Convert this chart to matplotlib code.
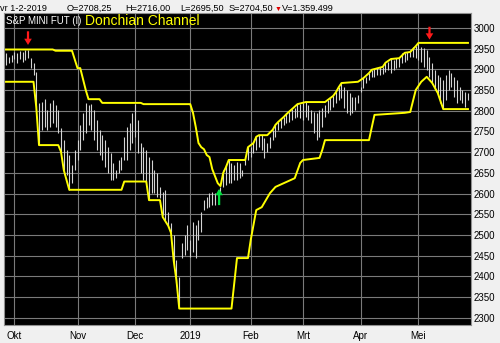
import numpy as np
import matplotlib
matplotlib.use('Agg')
import matplotlib.pyplot as plt

plt.rcParams['font.family'] = ['Liberation Sans', 'DejaVu Sans']

# daily bars (high / low), one per trading day from late Sep 2018
highs = [2940, 2930, 2935, 2942, 2940, 2944, 2942, 2947, 2947, 2928,
         2915, 2894, 2819, 2821, 2828, 2802, 2819, 2826, 2814, 2802,
         2758, 2729, 2705, 2693, 2669, 2705, 2729, 2766, 2795, 2819,
         2814, 2816, 2802, 2778, 2754, 2741, 2729, 2712, 2698, 2674,
         2657, 2681, 2688, 2737, 2761, 2770, 2795, 2816, 2778, 2722,
         2712, 2705, 2688, 2681, 2657, 2650, 2616, 2604, 2609, 2555,
         2529, 2500, 2439, 2398, 2480, 2500, 2524, 2488, 2531, 2524,
         2536, 2555, 2584, 2592, 2601, 2604, 2601, 2609, 2616, 2657,
         2669, 2681, 2674, 2669, 2676, 2674, 2657, 2686, 2712, 2712,
         2722, 2737, 2741, 2741, 2734, 2722, 2737, 2754, 2766, 2773,
         2783, 2785, 2792, 2797, 2804, 2807, 2816, 2816, 2819, 2821,
         2814, 2802, 2797, 2795, 2802, 2807, 2814, 2826, 2831, 2836,
         2845, 2857, 2867, 2857, 2850, 2843, 2833, 2833, 2838, 2857,
         2879, 2882, 2891, 2899, 2901, 2903, 2906, 2906, 2915, 2918,
         2925, 2923, 2928, 2928, 2940, 2940, 2942, 2947, 2954, 2956,
         2964, 2954, 2952, 2947, 2930, 2915, 2899, 2886, 2882, 2874,
         2886, 2899, 2891, 2882, 2874, 2857, 2850, 2845, 2843]
lows = [2911, 2915, 2918, 2925, 2915, 2925, 2918, 2923, 2928, 2903,
        2886, 2809, 2717, 2754, 2761, 2754, 2761, 2770, 2761, 2746,
        2700, 2657, 2645, 2609, 2625, 2657, 2681, 2705, 2729, 2746,
        2766, 2754, 2729, 2705, 2693, 2681, 2664, 2650, 2633, 2633,
        2637, 2650, 2657, 2681, 2681, 2705, 2722, 2737, 2698, 2650,
        2633, 2625, 2584, 2601, 2601, 2592, 2589, 2548, 2536, 2519,
        2507, 2427, 2384, 2323, 2444, 2451, 2464, 2447, 2459, 2444,
        2488, 2507, 2560, 2565, 2567, 2572, 2572, 2594, 2601, 2616,
        2621, 2625, 2625, 2633, 2633, 2637, 2643, 2669, 2681, 2688,
        2698, 2705, 2712, 2705, 2686, 2700, 2710, 2729, 2737, 2754,
        2758, 2766, 2770, 2773, 2778, 2783, 2785, 2783, 2778, 2785,
        2778, 2770, 2746, 2729, 2737, 2761, 2785, 2795, 2802, 2809,
        2819, 2826, 2831, 2807, 2795, 2790, 2795, 2802, 2819, 2845,
        2855, 2867, 2874, 2882, 2882, 2886, 2886, 2889, 2894, 2899,
        2891, 2899, 2903, 2906, 2915, 2918, 2923, 2930, 2930, 2928,
        2923, 2918, 2906, 2899, 2882, 2867, 2850, 2843, 2819, 2804,
        2826, 2850, 2857, 2833, 2819, 2826, 2819, 2809, 2826]

# donchian channel, (bar, value) turning points
upper_idx = [0, 17, 18, 24, 26, 27, 29, 30, 34, 35, 49, 50, 67, 68, 69, 70,
             71, 72, 73, 74, 75, 77, 78, 79, 80, 81, 87, 88, 90, 91, 92, 95,
             97, 98, 99, 101, 102, 104, 106, 109, 116, 117, 119, 120, 121,
             122, 128, 130, 132, 133, 137, 138, 140, 143, 145, 147, 149, 150,
             168]
upper_val = [2948, 2948, 2945, 2945, 2903, 2903, 2850, 2828, 2828, 2819, 2819,
             2816, 2816, 2795, 2761, 2722, 2712, 2707, 2693, 2688, 2659, 2625,
             2618, 2650, 2664, 2681, 2681, 2712, 2722, 2737, 2741, 2741, 2754,
             2766, 2773, 2785, 2792, 2804, 2816, 2821, 2821, 2826, 2836, 2845,
             2857, 2867, 2870, 2879, 2891, 2899, 2906, 2916, 2925, 2927, 2940,
             2942, 2956, 2964, 2964]
lower_idx = [0, 10, 11, 12, 19, 20, 21, 23, 42, 43, 51, 52, 56, 57, 59, 60,
             61, 62, 63, 82, 84, 88, 89, 91, 93, 96, 98, 101, 105, 107, 108,
             114, 115, 116, 132, 134, 145, 147, 149, 151, 153, 155, 157, 159,
             168]
lower_val = [2870, 2870, 2809, 2717, 2717, 2701, 2657, 2609, 2609, 2629, 2629,
             2584, 2584, 2543, 2522, 2505, 2437, 2389, 2322, 2322, 2444, 2444,
             2488, 2560, 2567, 2601, 2616, 2625, 2637, 2674, 2681, 2686, 2705,
             2729, 2729, 2790, 2795, 2797, 2850, 2870, 2882, 2867, 2843, 2804,
             2804]

month_pos = [3, 26, 47, 67, 89, 108, 129, 150]
month_labels = ['Okt', 'Nov', 'Dec', '2019', 'Feb', 'Mrt', 'Apr', 'Mei']

# signal arrows: (bar, from, to)
sell_signals = [(8, 2992, 2959), (154, 3003, 2972)]
buy_signals = [(77.5, 2572, 2611)]

fig = plt.figure(figsize=(5, 3.43), dpi=100, facecolor='#f0f0f0')
ax = fig.add_axes([4 / 500, 18 / 343, 467 / 500, 312 / 343])
ax.set_facecolor('black')

x = np.arange(len(highs))
ax.vlines(x, lows, highs, color='#d4d4d4', lw=0.8, zorder=3)
ax.plot(upper_idx, upper_val, color='#ffff00', lw=1.4, zorder=4)
ax.plot(lower_idx, lower_val, color='#ffff00', lw=1.4, zorder=4)

arrow_style = 'simple,head_width=0.55,head_length=0.45,tail_width=0.16'
for xi, y0, y1 in sell_signals:
    ax.annotate('', xy=(xi, y1), xytext=(xi, y0),
                arrowprops=dict(arrowstyle=arrow_style, color='#ff1a1a',
                                mutation_scale=10, lw=0,
                                shrinkA=0, shrinkB=0), zorder=5)
for xi, y0, y1 in buy_signals:
    ax.annotate('', xy=(xi, y1), xytext=(xi, y0),
                arrowprops=dict(arrowstyle=arrow_style, color='#00e040',
                                mutation_scale=10, lw=0,
                                shrinkA=0, shrinkB=0), zorder=5)

ax.set_xlim(-0.73, 169.1)
ax.set_ylim(2282.3, 3036.2)
ax.set_xticks(month_pos)
ax.set_xticklabels(month_labels)
ax.set_yticks(range(2300, 3001, 50))
ax.yaxis.tick_right()
ax.tick_params(axis='both', length=0, labelsize=7, colors='black')
ax.tick_params(axis='x', pad=4)
ax.tick_params(axis='y', pad=2)
ax.grid(True, color='#7a7a7a', lw=0.8, zorder=1)
ax.set_axisbelow(True)
for s in ax.spines.values():
    s.set_color('#909090')
    s.set_linewidth(0.8)

ax.text(0.004, 0.974, 'S&P MINI FUT (I)', transform=ax.transAxes,
        color='white', fontsize=7, va='center', ha='left', zorder=6)
ax.text(0.173, 0.974, 'Donchian Channel', transform=ax.transAxes,
        color='#ffff00', fontsize=10, va='center', ha='left', zorder=6)

# header line with the cursor bar values
hy = 1 - 8.5 / 343
fig.text(0 / 500, hy, 'vr 1-2-2019', fontsize=6.6, va='center')
fig.text(67 / 500, hy, 'O=2708,25', fontsize=6.6, va='center')
fig.text(125 / 500, hy, 'H=2716,00', fontsize=6.6, va='center')
fig.text(180 / 500, hy, 'L=2695,50', fontsize=6.6, va='center')
fig.text(229 / 500, hy, 'S=2704,50', fontsize=6.6, va='center')
fig.text(275 / 500, hy - 0.004, '▼', fontsize=5, color='#e00000', va='center')
fig.text(282 / 500, hy, 'V=1.359.499', fontsize=6.6, va='center')

fig.savefig('out.png', dpi=100, facecolor=fig.get_facecolor())
